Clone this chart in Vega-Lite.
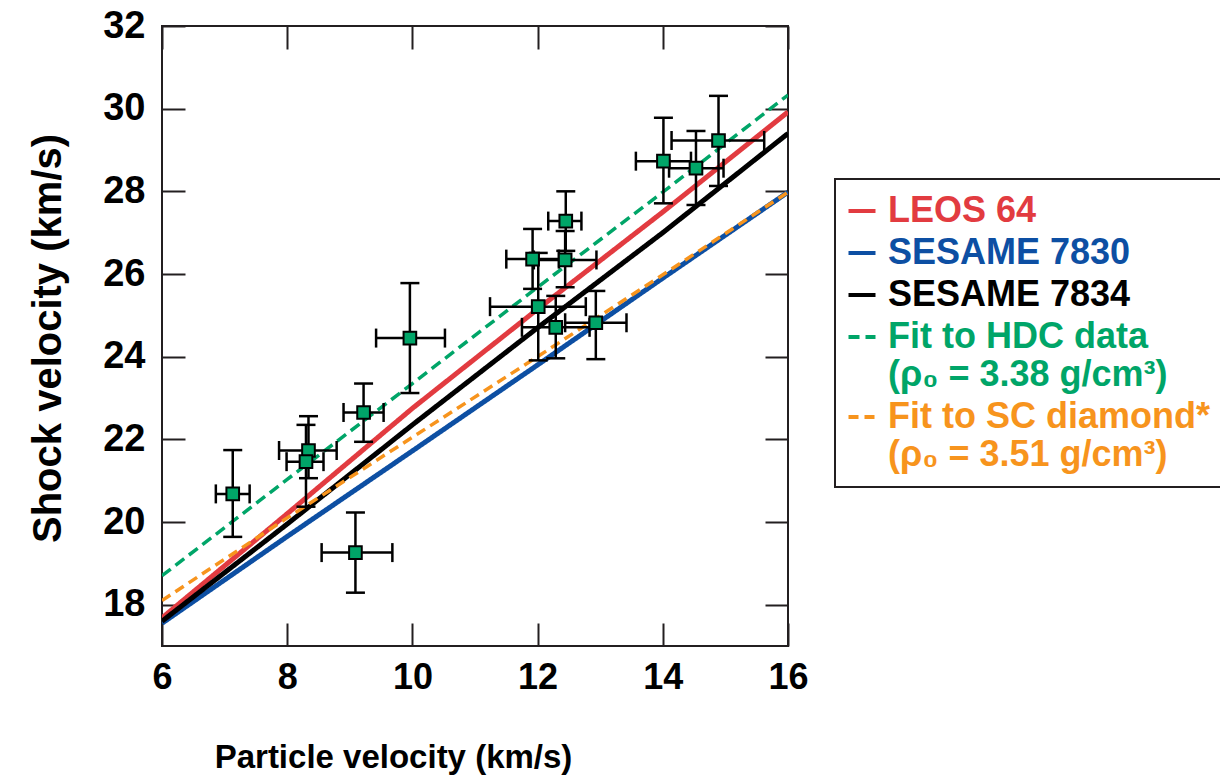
{
  "$schema": "https://vega.github.io/schema/vega-lite/v6.json",
  "width": 626,
  "height": 620,
  "autosize": {"type": "none"},
  "padding": {"left": 162, "top": 26, "right": 432, "bottom": 130},
  "background": "white",
  "config": {
    "view": {"stroke": "#231f20", "strokeWidth": 2},
    "font": "Liberation Sans",
    "axis": {"grid": false, "domain": false, "tickColor": "#231f20", "tickWidth": 2, "labelFlush": false, "labelOverlap": false},
    "legend": {"orient": "none", "legendX": 673, "legendY": 153, "title": null,
      "symbolType": "stroke", "symbolSize": 729, "symbolStrokeWidth": 4, "symbolOffset": -5,
      "labelFont": "Liberation Sans", "labelFontWeight": "bold", "labelFontSize": 36, "labelOffset": 8, "labelLimit": 0,
      "rowPadding": 6, "padding": 14, "strokeColor": "#231f20", "fillColor": "white"}
  },
  "datasets": {
    "models": [
      {"series": "LEOS 64", "up": 6, "Us": 17.68},
      {"series": "LEOS 64", "up": 8, "Us": 20.2},
      {"series": "LEOS 64", "up": 10, "Us": 22.75},
      {"series": "LEOS 64", "up": 12, "Us": 25.15},
      {"series": "LEOS 64", "up": 14, "Us": 27.5},
      {"series": "LEOS 64", "up": 16, "Us": 29.92},
      {"series": "SESAME 7830", "up": 6, "Us": 17.55},
      {"series": "SESAME 7830", "up": 8, "Us": 19.65},
      {"series": "SESAME 7830", "up": 10, "Us": 21.72},
      {"series": "SESAME 7830", "up": 12, "Us": 23.8},
      {"series": "SESAME 7830", "up": 14, "Us": 25.9},
      {"series": "SESAME 7830", "up": 16, "Us": 27.98},
      {"series": "SESAME 7834", "up": 6, "Us": 17.6},
      {"series": "SESAME 7834", "up": 8, "Us": 19.95},
      {"series": "SESAME 7834", "up": 10, "Us": 22.35},
      {"series": "SESAME 7834", "up": 12, "Us": 24.7},
      {"series": "SESAME 7834", "up": 14, "Us": 27.0},
      {"series": "SESAME 7834", "up": 16, "Us": 29.4},
      {"series": "Fit to HDC data", "up": 6, "Us": 18.7},
      {"series": "Fit to HDC data", "up": 8, "Us": 21.03},
      {"series": "Fit to HDC data", "up": 10, "Us": 23.35},
      {"series": "Fit to HDC data", "up": 12, "Us": 25.68},
      {"series": "Fit to HDC data", "up": 14, "Us": 27.98},
      {"series": "Fit to HDC data", "up": 16, "Us": 30.33},
      {"series": "Fit to SC diamond*", "up": 6, "Us": 18.1},
      {"series": "Fit to SC diamond*", "up": 8, "Us": 20.1},
      {"series": "Fit to SC diamond*", "up": 10, "Us": 22.05},
      {"series": "Fit to SC diamond*", "up": 12, "Us": 24.0},
      {"series": "Fit to SC diamond*", "up": 14, "Us": 25.98},
      {"series": "Fit to SC diamond*", "up": 16, "Us": 27.98}
    ],
    "shots": [
      {"up": 7.13, "Us": 20.68, "upLo": 6.86, "upHi": 7.40, "UsLo": 19.64, "UsHi": 21.74},
      {"up": 9.09, "Us": 19.26, "upLo": 8.55, "upHi": 9.68, "UsLo": 18.29, "UsHi": 20.23},
      {"up": 8.34, "Us": 21.73, "upLo": 7.87, "upHi": 8.79, "UsLo": 21.06, "UsHi": 22.56},
      {"up": 8.30, "Us": 21.46, "upLo": 7.99, "upHi": 8.58, "UsLo": 20.37, "UsHi": 22.35},
      {"up": 9.22, "Us": 22.65, "upLo": 8.90, "upHi": 9.54, "UsLo": 21.94, "UsHi": 23.35},
      {"up": 9.96, "Us": 24.45, "upLo": 9.42, "upHi": 10.52, "UsLo": 23.12, "UsHi": 25.78},
      {"up": 12.45, "Us": 27.28, "upLo": 12.17, "upHi": 12.70, "UsLo": 26.56, "UsHi": 28.0},
      {"up": 11.92, "Us": 26.36, "upLo": 11.50, "upHi": 12.34, "UsLo": 25.64, "UsHi": 27.09},
      {"up": 12.44, "Us": 26.34, "upLo": 11.94, "upHi": 12.94, "UsLo": 25.68, "UsHi": 27.04},
      {"up": 12.01, "Us": 25.21, "upLo": 11.24, "upHi": 12.77, "UsLo": 23.91, "UsHi": 26.51},
      {"up": 12.29, "Us": 24.71, "upLo": 11.75, "upHi": 12.83, "UsLo": 23.96, "UsHi": 25.47},
      {"up": 12.93, "Us": 24.82, "upLo": 12.44, "upHi": 13.42, "UsLo": 23.94, "UsHi": 25.59},
      {"up": 14.01, "Us": 28.73, "upLo": 13.57, "upHi": 14.45, "UsLo": 27.71, "UsHi": 29.78},
      {"up": 14.53, "Us": 28.56, "upLo": 14.10, "upHi": 14.97, "UsLo": 27.67, "UsHi": 29.46},
      {"up": 14.89, "Us": 29.23, "upLo": 14.14, "upHi": 15.62, "UsLo": 28.13, "UsHi": 30.31}
    ]
  },
  "layer": [
    {
      "data": {"name": "models"},
      "transform": [{"filter": "indexof(['LEOS 64', 'SESAME 7830', 'SESAME 7834'], datum.series) >= 0"}],
      "mark": {"type": "line", "clip": true, "strokeWidth": 5},
      "encoding": {
        "x": {"field": "up", "type": "quantitative", "scale": {"domain": [6, 16], "nice": false, "zero": false},
          "axis": {"orient": "bottom", "values": [6, 8, 10, 12, 14, 16], "tickSize": -23, "labelPadding": 37,
            "labelFont": "Liberation Sans", "labelFontWeight": "bold", "labelFontSize": 36, "labelColor": "black",
            "title": "Particle velocity (km/s)", "titleFont": "Liberation Sans", "titleFontWeight": "bold", "titleFontSize": 33, "titleColor": "black",
            "titleX": 231, "titleY": 121, "titleAlign": "center", "titleBaseline": "alphabetic", "titleAngle": 0}},
        "y": {"field": "Us", "type": "quantitative", "scale": {"domain": [17, 32], "nice": false, "zero": false},
          "axis": {"orient": "left", "values": [18, 20, 22, 24, 26, 28, 30, 32], "tickSize": -23, "labelPadding": 40,
            "labelFont": "Liberation Sans", "labelFontWeight": "bold", "labelFontSize": 38, "labelColor": "black",
            "title": "Shock velocity (km/s)", "titleFont": "Liberation Sans", "titleFontWeight": "bold", "titleFontSize": 40, "titleColor": "black",
            "titleX": -102, "titleY": 312, "titleAlign": "center", "titleBaseline": "alphabetic", "titleAngle": -90}},
        "color": {"field": "series", "type": "nominal",
          "scale": {"domain": ["LEOS 64", "SESAME 7830", "SESAME 7834", "Fit to HDC data", "Fit to SC diamond*"],
            "range": ["#e23b40", "#0d4fa3", "#000000", "#00a568", "#f7941d"]},
          "legend": {
            "labelExpr": "datum.label === 'Fit to HDC data' ? ['Fit to HDC data', '(ρ₀ = 3.38 g/cm³)'] : datum.label === 'Fit to SC diamond*' ? ['Fit to SC diamond*', '(ρ₀ = 3.51 g/cm³)'] : datum.label",
            "encode": {"legend": {"update": {"strokeWidth": {"value": 2}}},
              "labels": {"update": {"fill": {"signal": "datum.value === 'LEOS 64' ? '#e23b40' : datum.value === 'SESAME 7830' ? '#0d4fa3' : datum.value === 'SESAME 7834' ? '#000000' : datum.value === 'Fit to HDC data' ? '#00a568' : '#f7941d'"}}}}}},
        "strokeDash": {"field": "series", "type": "nominal",
          "scale": {"domain": ["LEOS 64", "SESAME 7830", "SESAME 7834", "Fit to HDC data", "Fit to SC diamond*"],
            "range": [[1, 0], [1, 0], [1, 0], [11, 6], [10, 6]]},
          "legend": {
            "labelExpr": "datum.label === 'Fit to HDC data' ? ['Fit to HDC data', '(ρ₀ = 3.38 g/cm³)'] : datum.label === 'Fit to SC diamond*' ? ['Fit to SC diamond*', '(ρ₀ = 3.51 g/cm³)'] : datum.label",
            "encode": {"legend": {"update": {"strokeWidth": {"value": 2}}},
              "labels": {"update": {"fill": {"signal": "datum.value === 'LEOS 64' ? '#e23b40' : datum.value === 'SESAME 7830' ? '#0d4fa3' : datum.value === 'SESAME 7834' ? '#000000' : datum.value === 'Fit to HDC data' ? '#00a568' : '#f7941d'"}}}}}}
      }
    },
    {
      "data": {"name": "models"},
      "transform": [{"filter": "indexof(['Fit to HDC data', 'Fit to SC diamond*'], datum.series) >= 0"}],
      "mark": {"type": "line", "clip": true, "strokeWidth": 3.5},
      "encoding": {
        "x": {"field": "up", "type": "quantitative", "axis": null},
        "y": {"field": "Us", "type": "quantitative", "axis": null},
        "color": {"field": "series", "type": "nominal",
          "legend": {
            "labelExpr": "datum.label === 'Fit to HDC data' ? ['Fit to HDC data', '(ρ₀ = 3.38 g/cm³)'] : datum.label === 'Fit to SC diamond*' ? ['Fit to SC diamond*', '(ρ₀ = 3.51 g/cm³)'] : datum.label",
            "encode": {"legend": {"update": {"strokeWidth": {"value": 2}}},
              "labels": {"update": {"fill": {"signal": "datum.value === 'LEOS 64' ? '#e23b40' : datum.value === 'SESAME 7830' ? '#0d4fa3' : datum.value === 'SESAME 7834' ? '#000000' : datum.value === 'Fit to HDC data' ? '#00a568' : '#f7941d'"}}}}}},
        "strokeDash": {"field": "series", "type": "nominal",
          "legend": {
            "labelExpr": "datum.label === 'Fit to HDC data' ? ['Fit to HDC data', '(ρ₀ = 3.38 g/cm³)'] : datum.label === 'Fit to SC diamond*' ? ['Fit to SC diamond*', '(ρ₀ = 3.51 g/cm³)'] : datum.label",
            "encode": {"legend": {"update": {"strokeWidth": {"value": 2}}},
              "labels": {"update": {"fill": {"signal": "datum.value === 'LEOS 64' ? '#e23b40' : datum.value === 'SESAME 7830' ? '#0d4fa3' : datum.value === 'SESAME 7834' ? '#000000' : datum.value === 'Fit to HDC data' ? '#00a568' : '#f7941d'"}}}}}}
      }
    },
    {
      "data": {"name": "shots"},
      "mark": {"type": "rule", "color": "black", "strokeWidth": 2.5},
      "encoding": {
        "x": {"field": "up", "type": "quantitative", "axis": null},
        "y": {"field": "UsLo", "type": "quantitative", "axis": null},
        "y2": {"field": "UsHi"}
      }
    },
    {
      "data": {"name": "shots"},
      "mark": {"type": "rule", "color": "black", "strokeWidth": 2.5},
      "encoding": {
        "x": {"field": "upLo", "type": "quantitative", "axis": null},
        "x2": {"field": "upHi"},
        "y": {"field": "Us", "type": "quantitative", "axis": null}
      }
    },
    {
      "data": {"name": "shots"},
      "mark": {"type": "tick", "orient": "horizontal", "color": "black", "size": 19, "thickness": 2.5, "opacity": 1},
      "encoding": {
        "x": {"field": "up", "type": "quantitative", "axis": null},
        "y": {"field": "UsLo", "type": "quantitative", "axis": null}
      }
    },
    {
      "data": {"name": "shots"},
      "mark": {"type": "tick", "orient": "horizontal", "color": "black", "size": 19, "thickness": 2.5, "opacity": 1},
      "encoding": {
        "x": {"field": "up", "type": "quantitative", "axis": null},
        "y": {"field": "UsHi", "type": "quantitative", "axis": null}
      }
    },
    {
      "data": {"name": "shots"},
      "mark": {"type": "tick", "orient": "vertical", "color": "black", "size": 19, "thickness": 2.5, "opacity": 1},
      "encoding": {
        "x": {"field": "upLo", "type": "quantitative", "axis": null},
        "y": {"field": "Us", "type": "quantitative", "axis": null}
      }
    },
    {
      "data": {"name": "shots"},
      "mark": {"type": "tick", "orient": "vertical", "color": "black", "size": 19, "thickness": 2.5, "opacity": 1},
      "encoding": {
        "x": {"field": "upHi", "type": "quantitative", "axis": null},
        "y": {"field": "Us", "type": "quantitative", "axis": null}
      }
    },
    {
      "data": {"name": "shots"},
      "mark": {"type": "point", "shape": "square", "filled": true, "fill": "#00a568", "stroke": "black", "strokeWidth": 2, "size": 160, "opacity": 1},
      "encoding": {
        "x": {"field": "up", "type": "quantitative",
          "axis": {"orient": "top", "values": [6, 8, 10, 12, 14, 16], "tickSize": -23, "labels": false, "title": null}},
        "y": {"field": "Us", "type": "quantitative",
          "axis": {"orient": "right", "values": [18, 20, 22, 24, 26, 28, 30, 32], "tickSize": -23, "labels": false, "title": null}}
      }
    }
  ],
  "resolve": {"axis": {"x": "independent", "y": "independent"}}
}
